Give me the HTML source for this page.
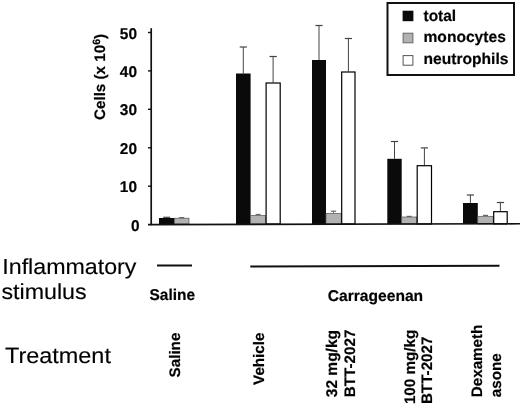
<!DOCTYPE html>
<html><head><meta charset="utf-8"><title>chart</title>
<style>
html,body{margin:0;padding:0;background:#fff;}
svg{display:block;}
text{text-rendering:geometricPrecision;font-family:"Liberation Sans",Arial,sans-serif;fill:#000;}
.b{font-weight:bold;}
</style></head><body>
<svg width="520" height="408" viewBox="0 0 520 408">
<rect x="0" y="0" width="520" height="408" fill="#fff"/>

<line x1="166.8" y1="218" x2="166.8" y2="217.3" stroke="#444" stroke-width="1"/>
<line x1="163.2" y1="217.3" x2="170.3" y2="217.3" stroke="#444" stroke-width="1.2"/>
<rect x="159" y="218" width="15.5" height="6.0" fill="#0a0a0a"/>
<line x1="181.8" y1="218.2" x2="181.8" y2="217.6" stroke="#666" stroke-width="1"/>
<line x1="179.2" y1="217.6" x2="184.2" y2="217.6" stroke="#666" stroke-width="1.2"/>
<rect x="174.5" y="218.2" width="14.5" height="5.8" fill="#b2b2b2" stroke="#555" stroke-width="0.7"/>
<line x1="243.3" y1="73.5" x2="243.3" y2="47" stroke="#444" stroke-width="1"/>
<line x1="239.7" y1="47" x2="246.9" y2="47" stroke="#444" stroke-width="1.2"/>
<rect x="236" y="73.5" width="14.6" height="150.5" fill="#0a0a0a"/>
<line x1="258.1" y1="215.5" x2="258.1" y2="214.5" stroke="#666" stroke-width="1"/>
<line x1="255.6" y1="214.5" x2="260.6" y2="214.5" stroke="#666" stroke-width="1.2"/>
<rect x="250.6" y="215.5" width="15.0" height="8.5" fill="#b2b2b2" stroke="#555" stroke-width="0.7"/>
<line x1="273.1" y1="82.5" x2="273.1" y2="56.5" stroke="#444" stroke-width="1"/>
<line x1="269.5" y1="56.5" x2="276.8" y2="56.5" stroke="#444" stroke-width="1.2"/>
<rect x="266.1" y="83.0" width="14.1" height="141.0" fill="#fff" stroke="#000" stroke-width="1.2"/>
<line x1="319.0" y1="60" x2="319.0" y2="25.5" stroke="#444" stroke-width="1"/>
<line x1="315.4" y1="25.5" x2="322.6" y2="25.5" stroke="#444" stroke-width="1.2"/>
<rect x="312" y="60" width="14.0" height="164.0" fill="#0a0a0a"/>
<line x1="333.6" y1="213.4" x2="333.6" y2="211.2" stroke="#666" stroke-width="1"/>
<line x1="331.1" y1="211.2" x2="336.1" y2="211.2" stroke="#666" stroke-width="1.2"/>
<rect x="326" y="213.4" width="15.2" height="10.6" fill="#b2b2b2" stroke="#555" stroke-width="0.7"/>
<line x1="348.4" y1="71.5" x2="348.4" y2="38.5" stroke="#444" stroke-width="1"/>
<line x1="344.8" y1="38.5" x2="352.0" y2="38.5" stroke="#444" stroke-width="1.2"/>
<rect x="341.7" y="72.0" width="13.3" height="152.0" fill="#fff" stroke="#000" stroke-width="1.2"/>
<line x1="394.5" y1="158.8" x2="394.5" y2="141.5" stroke="#444" stroke-width="1"/>
<line x1="390.9" y1="141.5" x2="398.1" y2="141.5" stroke="#444" stroke-width="1.2"/>
<rect x="387.3" y="158.8" width="14.4" height="65.2" fill="#0a0a0a"/>
<line x1="409.2" y1="217" x2="409.2" y2="216.4" stroke="#666" stroke-width="1"/>
<line x1="406.7" y1="216.4" x2="411.7" y2="216.4" stroke="#666" stroke-width="1.2"/>
<rect x="401.7" y="217" width="15.0" height="7.0" fill="#b2b2b2" stroke="#555" stroke-width="0.7"/>
<line x1="424.4" y1="165.2" x2="424.4" y2="147.9" stroke="#444" stroke-width="1"/>
<line x1="420.8" y1="147.9" x2="428.0" y2="147.9" stroke="#444" stroke-width="1.2"/>
<rect x="417.2" y="165.7" width="14.3" height="58.3" fill="#fff" stroke="#000" stroke-width="1.2"/>
<line x1="470.4" y1="203" x2="470.4" y2="195" stroke="#444" stroke-width="1"/>
<line x1="466.8" y1="195" x2="474.0" y2="195" stroke="#444" stroke-width="1.2"/>
<rect x="463" y="203" width="14.8" height="21.0" fill="#0a0a0a"/>
<line x1="485.5" y1="216.3" x2="485.5" y2="215.4" stroke="#666" stroke-width="1"/>
<line x1="483.0" y1="215.4" x2="488.0" y2="215.4" stroke="#666" stroke-width="1.2"/>
<rect x="477.8" y="216.3" width="15.4" height="7.7" fill="#b2b2b2" stroke="#555" stroke-width="0.7"/>
<line x1="500.4" y1="211.2" x2="500.4" y2="202.5" stroke="#444" stroke-width="1"/>
<line x1="496.8" y1="202.5" x2="504.1" y2="202.5" stroke="#444" stroke-width="1.2"/>
<rect x="493.7" y="211.7" width="13.5" height="12.3" fill="#fff" stroke="#000" stroke-width="1.2"/>
<line x1="151.2" y1="28.2" x2="151.2" y2="225.2" stroke="#111" stroke-width="1.7"/>
<line x1="148" y1="224.6" x2="520" y2="223.8" stroke="#111" stroke-width="1.6"/>
<line x1="148" y1="32.5" x2="151.2" y2="32.5" stroke="#111" stroke-width="1.4"/>
<text class="b" transform="translate(137,38.5) scale(0.99,1)" font-size="15.6" text-anchor="end" stroke="#111" stroke-width="0.2">50</text>
<line x1="148" y1="70.9" x2="151.2" y2="70.9" stroke="#111" stroke-width="1.4"/>
<text class="b" transform="translate(137,76.9) scale(0.99,1)" font-size="15.6" text-anchor="end" stroke="#111" stroke-width="0.2">40</text>
<line x1="148" y1="109.3" x2="151.2" y2="109.3" stroke="#111" stroke-width="1.4"/>
<text class="b" transform="translate(137,115.3) scale(0.99,1)" font-size="15.6" text-anchor="end" stroke="#111" stroke-width="0.2">30</text>
<line x1="148" y1="147.8" x2="151.2" y2="147.8" stroke="#111" stroke-width="1.4"/>
<text class="b" transform="translate(137,153.8) scale(0.99,1)" font-size="15.6" text-anchor="end" stroke="#111" stroke-width="0.2">20</text>
<line x1="148" y1="186.2" x2="151.2" y2="186.2" stroke="#111" stroke-width="1.4"/>
<text class="b" transform="translate(137,192.2) scale(0.99,1)" font-size="15.6" text-anchor="end" stroke="#111" stroke-width="0.2">10</text>
<text class="b" transform="translate(139.5,230.6) scale(0.99,1)" font-size="15.6" text-anchor="end" stroke="#111" stroke-width="0.2">0</text>
<text class="b" transform="translate(104.8,120) scale(1.0,1) rotate(-90)" font-size="15.2" stroke="#111" stroke-width="0.2">Cells (x 10<tspan font-size="10.5" dy="-5.2">6</tspan><tspan dy="5.2">)</tspan></text>
<rect x="387.5" y="3" width="126.5" height="72" fill="#fff" stroke="#111" stroke-width="2"/>
<rect x="402.6" y="10.7" width="10.8" height="10.5" fill="#0a0a0a"/>
<rect x="403.1" y="33.2" width="9.8" height="9.6" fill="#b2b2b2" stroke="#666" stroke-width="1"/>
<rect x="403.1" y="55.6" width="9.8" height="9.6" fill="#fff" stroke="#555" stroke-width="1"/>
<text class="b" transform="translate(423.5,21.2) scale(0.99,1)" font-size="15.6" text-anchor="start" stroke="#111" stroke-width="0.2">total</text>
<text class="b" transform="translate(423.5,41.9) scale(1.0,1)" font-size="15.6" text-anchor="start" stroke="#111" stroke-width="0.2">monocytes</text>
<text class="b" transform="translate(423.5,64) scale(1.0,1)" font-size="15.6" text-anchor="start" stroke="#111" stroke-width="0.2">neutrophils</text>
<text class="r" transform="translate(2.3,273.5) scale(1.065,1)" font-size="21.8" text-anchor="start" stroke="#111" stroke-width="0.15">Inflammatory</text>
<text class="r" transform="translate(1.5,299) scale(1.065,1)" font-size="21.8" text-anchor="start" stroke="#111" stroke-width="0.15">stimulus</text>
<text class="r" transform="translate(5,363.3) scale(1.065,1)" font-size="22" text-anchor="start" stroke="#111" stroke-width="0.15">Treatment</text>
<line x1="157" y1="265.5" x2="192" y2="265.5" stroke="#111" stroke-width="2"/>
<line x1="250.3" y1="266.4" x2="499.5" y2="265.8" stroke="#111" stroke-width="2"/>
<text class="b" transform="translate(149.5,299.6) scale(0.99,1)" font-size="15.6" text-anchor="start" stroke="#111" stroke-width="0.2">Saline</text>
<text class="b" transform="translate(327.8,300.8) scale(1.0,1)" font-size="15.6" text-anchor="start" stroke="#111" stroke-width="0.2">Carrageenan</text>
<text class="b" transform="translate(180.3,377.4) scale(1.0,1) rotate(-90)" font-size="15.2" stroke="#111" stroke-width="0.2">Saline</text>
<text class="b" transform="translate(264,384.9) scale(1.0,1) rotate(-90)" font-size="15.2" stroke="#111" stroke-width="0.2">Vehicle</text>
<text class="b" transform="translate(337.2,397.2) scale(1.0,1) rotate(-90)" font-size="15.5" stroke="#111" stroke-width="0.2">32 mg/kg</text>
<text class="b" transform="translate(354.5,397.2) scale(1.0,1) rotate(-90)" font-size="15.2" stroke="#111" stroke-width="0.2">BTT-2027</text>
<text class="b" transform="translate(414.8,404.1) scale(1.0,1) rotate(-90)" font-size="15.2" stroke="#111" stroke-width="0.2">100 mg/kg</text>
<text class="b" transform="translate(431.7,404.1) scale(1.0,1) rotate(-90)" font-size="15.2" stroke="#111" stroke-width="0.2">BTT-2027</text>
<text class="b" transform="translate(482,397.2) scale(1.0,1) rotate(-90)" font-size="15.2" stroke="#111" stroke-width="0.2">Dexameth</text>
<text class="b" transform="translate(500.5,397.2) scale(1.0,1) rotate(-90)" font-size="15.2" stroke="#111" stroke-width="0.2">asone</text>
</svg></body></html>
